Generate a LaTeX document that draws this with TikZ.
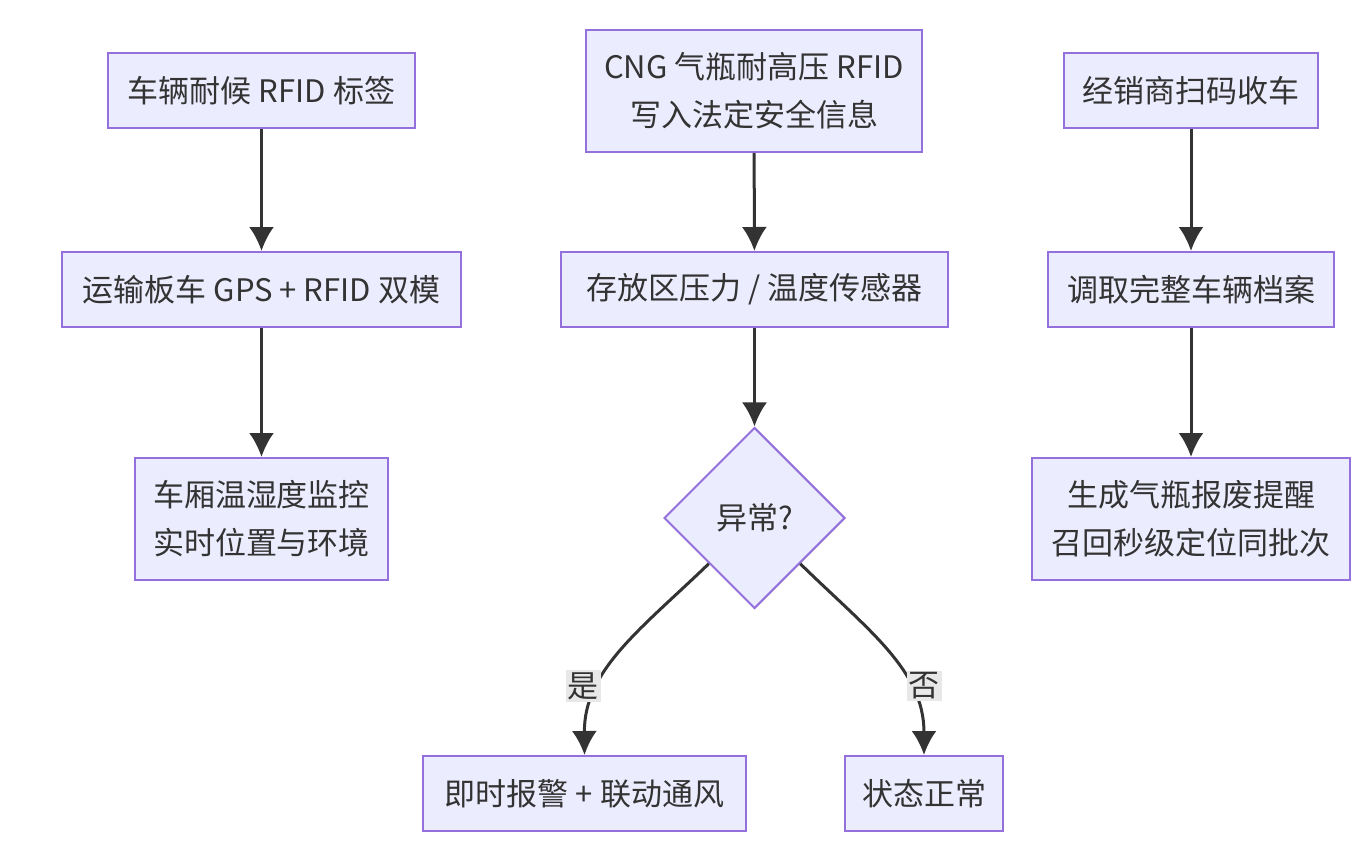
\documentclass[tikz,border=0pt]{standalone}
\usepackage{fontspec}
\setmainfont{Noto Sans CJK SC}
\usetikzlibrary{shapes.geometric,arrows.meta}
\definecolor{boxfill}{HTML}{ECECFF}
\definecolor{boxline}{HTML}{9370DB}
\definecolor{ink}{HTML}{333333}
\definecolor{lblfill}{HTML}{E8E8E8}
\begin{document}
\begin{tikzpicture}[x=0.5pt, y=-0.5pt,
		>={Latex[length=12pt,width=12.5pt]},   % Pfeilspitzen
		box/.style={draw=boxline, fill=boxfill, line width=1pt, text=ink, align=center,
			inner sep=0pt, minimum height=37.5pt, minimum width=#1,
			font=\fontsize{15.5}{24}\selectfont},
		tall/.style={box=#1, minimum height=61pt},
		check/.style={draw=boxline, fill=boxfill, line width=1pt, text=ink, shape=diamond,
			aspect=1, inner sep=0pt, minimum size=90.5pt, font=\fontsize{15.5}{24}\selectfont},
		edge/.style={->, draw=ink, line width=1.5pt},
		lbl/.style={fill=lblfill, text=ink, inner sep=1pt, font=\fontsize{15.5}{18}\selectfont}]
	% Rahmen
	\useasboundingbox (0,0) rectangle (1362,862);
	% linke Spalte
	\node[box=153.5pt] (tag)   at (261.5,90.5)  {车辆耐候 RFID 标签};
	\node[box=199.5pt] (truck) at (261.5,289.5) {运输板车 GPS + RFID 双模};
	\node[tall=126.5pt] (cabin) at (261.5,519)  {车厢温湿度监控\\实时位置与环境};
	% mittlere Spalte
	\node[tall=168pt]  (cng)    at (754,91)     {CNG 气瓶耐高压 RFID\\写入法定安全信息};
	\node[box=193.5pt] (sensor) at (754.5,289.5) {存放区压力 / 温度传感器};
	\node[check]       (abn)    at (754.5,518)  {异常?};
	\node[box=161.5pt] (alarm)  at (584.5,793.5) {即时报警 + 联动通风};
	\node[box=79pt]    (normal) at (924,793.5)  {状态正常};
	% rechte Spalte
	\node[box=127pt]   (dealer)  at (1191,90.5)  {经销商扫码收车};
	\node[box=143pt]   (archive) at (1191,289.5) {调取完整车辆档案};
	\node[tall=159pt]  (recall)  at (1191,519)   {生成气瓶报废提醒\\召回秒级定位同批次};
	% Pfeile
	\draw[edge] (tag) -- (truck);
	\draw[edge] (truck) -- (cabin);
	\draw[edge] (cng) -- (sensor);
	\draw[edge] (sensor) -- (abn);
	\draw[edge] (dealer) -- (archive);
	\draw[edge] (archive) -- (recall);
	\draw[edge] (abn.south west) .. controls (640,630) and (584,670) .. (alarm.north);
	\draw[edge] (abn.south east) .. controls (868,630) and (924,670) .. (normal.north);
	% Beschriftung
	\node[lbl] (yes) at (583,686) {是};
	\node[lbl] (no)  at (924,686) {否};
\end{tikzpicture}
\end{document}
